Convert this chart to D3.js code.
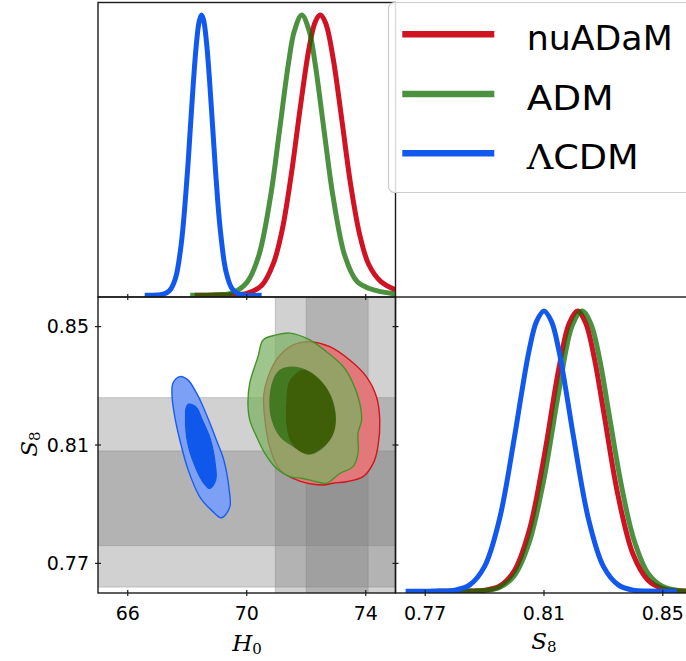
<!DOCTYPE html>
<html><head><meta charset="utf-8">
<script src="https://cdn.jsdelivr.net/npm/d3@7"></script>
<style>
html,body{margin:0;padding:0;background:#fff;overflow:hidden}
svg{display:block}
</style></head><body>
<svg id="chart" width="686" height="661"></svg>
<script>
// ---------------- DATA ----------------
const seriesNames = ["nuADaM", "ADM", "ΛCDM"];
const seriesColors = ["#d01223", "#0f6c00", "#1158ee"];
const seriesLineOpacity = [1, 0.75, 1];

const h0Domain = [65, 75];
const s8Domain = [0.76, 0.86];
const h0Ticks = [66, 70, 74];
const s8Ticks = [0.77, 0.81, 0.85];

// external bands (1 sigma, 2 sigma)
const h0Band1 = [72.0, 74.08];
const h0Band2 = [70.96, 75.12];
const s8Band1 = [0.776, 0.808];
const s8Band2 = [0.762, 0.826];

// 1D marginal posteriors of H0 : [H0, P/Pmax]
const h0_nuADaM = [[68.25,0],[69.0,0.001],[69.5,0.002],[70.0,0.007],[70.5,0.035],[70.9,0.115],[71.2,0.238],[71.5,0.433],[71.8,0.671],[72.1,0.885],[72.3,0.975],[72.47,1.0],[72.65,0.972],[72.9,0.848],[73.2,0.623],[73.5,0.39],[73.8,0.215],[74.1,0.11],[74.5,0.05],[75.0,0.02]];
const h0_ADM = [[68.1,0],[69.0,0.002],[69.5,0.008],[70.0,0.045],[70.4,0.14],[70.8,0.353],[71.1,0.587],[71.4,0.826],[71.6,0.943],[71.85,1.0],[72.1,0.943],[72.3,0.826],[72.6,0.587],[72.9,0.353],[73.3,0.14],[73.7,0.05],[74.1,0.025],[74.5,0.013],[75.0,0.005]];
const h0_LCDM = [[66.57,0],[67.0,0.001],[67.2,0.004],[67.4,0.016],[67.6,0.059],[67.8,0.185],[68.0,0.431],[68.1,0.59],[68.2,0.751],[68.3,0.888],[68.4,0.977],[68.48,1.0],[68.55,0.982],[68.65,0.9],[68.75,0.766],[68.85,0.607],[68.95,0.446],[69.1,0.245],[69.3,0.086],[69.5,0.025],[69.7,0.006],[69.9,0.001],[70.5,0]];

// 1D marginal posteriors of S8 : [S8, P/Pmax]
const s8_nuADaM = [[0.772,0],[0.78,0],[0.785,0.001],[0.79,0.004],[0.795,0.018],[0.8,0.073],[0.805,0.216],[0.81,0.478],[0.815,0.795],[0.8185,0.956],[0.8213,1.0],[0.824,0.958],[0.827,0.829],[0.83,0.646],[0.835,0.338],[0.84,0.132],[0.845,0.04],[0.85,0.01],[0.855,0.002],[0.86,0]];
const s8_ADM = [[0.774,0],[0.78,0],[0.785,0.001],[0.79,0.003],[0.795,0.014],[0.8,0.056],[0.805,0.174],[0.81,0.402],[0.815,0.714],[0.8195,0.948],[0.8228,1.0],[0.8258,0.954],[0.8288,0.824],[0.8322,0.613],[0.8362,0.37],[0.8402,0.187],[0.845,0.065],[0.85,0.017],[0.855,0.003],[0.86,0.001]];
const s8_LCDM = [[0.7634,0],[0.77,0],[0.775,0.001],[0.78,0.004],[0.785,0.023],[0.79,0.089],[0.795,0.257],[0.8,0.547],[0.8025,0.71],[0.805,0.86],[0.8075,0.963],[0.81,1.0],[0.8125,0.963],[0.815,0.86],[0.8175,0.71],[0.82,0.547],[0.825,0.257],[0.83,0.089],[0.835,0.023],[0.84,0.004],[0.845,0.001],[0.8547,0]];

// 2D contours (68% inner, 95% outer): [H0, S8]
const c2d_LCDM_outer = [[67.75,0.8331],[68.02,0.8320],[68.31,0.8276],[68.53,0.8230],[68.76,0.8174],[68.98,0.8117],[69.23,0.8049],[69.41,0.7948],[69.43,0.7891],[69.15,0.7854],[68.81,0.7880],[68.42,0.7925],[68.03,0.8016],[67.75,0.8117],[67.58,0.8196],[67.49,0.8263],[67.52,0.8309]];
const c2d_LCDM_inner = [[68.05,0.8241],[68.31,0.8230],[68.53,0.8185],[68.81,0.8117],[68.96,0.8038],[68.98,0.7982],[68.76,0.7951],[68.53,0.7971],[68.20,0.8038],[67.97,0.8117],[67.92,0.8196],[67.95,0.8229]];
const c2d_nuADaM_outer = [[70.72,0.8331],[71.04,0.8394],[71.56,0.8438],[72.12,0.8449],[72.79,0.8432],[73.46,0.8387],[74.02,0.8331],[74.36,0.8263],[74.47,0.8185],[74.41,0.8094],[74.25,0.8038],[73.91,0.7993],[73.35,0.7976],[72.90,0.7971],[72.57,0.7965],[71.78,0.7978],[71.28,0.8002],[71.04,0.8027],[70.77,0.8094],[70.61,0.8185],[70.57,0.8269]];
const c2d_nuADaM_inner = [[71.45,0.8320],[71.89,0.8354],[72.45,0.8320],[72.72,0.8286],[72.90,0.8241],[72.99,0.8185],[72.86,0.8128],[72.52,0.8090],[72.12,0.8070],[71.71,0.8083],[71.45,0.8117],[71.33,0.8168],[71.33,0.8252],[71.36,0.8293]];
const c2d_ADM_outer = [[71.45,0.8478],[72.12,0.8455],[72.68,0.8415],[73.24,0.8365],[73.57,0.8309],[73.80,0.8241],[73.86,0.8185],[73.74,0.8140],[73.74,0.8072],[73.57,0.8027],[73.13,0.8004],[72.68,0.7971],[72.34,0.7976],[71.89,0.7987],[71.45,0.7993],[71.00,0.8021],[70.61,0.8072],[70.33,0.8128],[70.10,0.8185],[70.04,0.8241],[70.10,0.8309],[70.38,0.8399],[70.55,0.8455],[71.00,0.8472]];
const c2d_ADM_inner = [[70.88,0.8320],[71.11,0.8354],[71.56,0.8365],[72.12,0.8348],[72.57,0.8309],[72.85,0.8263],[72.99,0.8207],[72.96,0.8151],[72.72,0.8106],[72.32,0.8073],[72.01,0.8068],[71.56,0.8094],[71.11,0.8128],[70.83,0.8185],[70.76,0.8252]];

// ---------------- LAYOUT ----------------
const svg = d3.select("#chart");
const defs = svg.append("defs");
const TL = {x0:98, x1:395.5, y0:2.5, y1:297};
const BL = {x0:98, x1:395.5, y0:297, y1:593};
const BR = {x0:395.5, x1:692.5, y0:297, y1:593};

function clip(id, p){
  defs.append("clipPath").attr("id", id).append("rect")
    .attr("x", p.x0).attr("y", p.y0).attr("width", p.x1-p.x0).attr("height", p.y1-p.y0);
  return "url(#"+id+")";
}
const clipTL = clip("cTL", TL), clipBL = clip("cBL", BL), clipBR = clip("cBR", BR);

const xH = d3.scaleLinear().domain(h0Domain).range([BL.x0, BL.x1]);
const yS = d3.scaleLinear().domain(s8Domain).range([BL.y1, BL.y0]);
const yTL = d3.scaleLinear().domain([-0.006, 1.045]).range([TL.y1, TL.y0]);
const xS = d3.scaleLinear().domain(s8Domain).range([BR.x0, BR.x1]);
const yBR = d3.scaleLinear().domain([-0.006, 1.05]).range([BR.y1, BR.y0]);

// ---------------- BOTTOM-LEFT: bands ----------------
const gBL = svg.append("g").attr("clip-path", clipBL);
const bandStyle = sel => sel.attr("fill", "#808080").attr("fill-opacity", 0.36)
   .attr("stroke", "#808080").attr("stroke-opacity", 0.36).attr("stroke-width", 1);
[s8Band2, s8Band1].forEach(b => {
  gBL.append("rect").attr("x", xH(h0Domain[0]) - 5).attr("width", xH(h0Domain[1]) - xH(h0Domain[0]) + 10)
    .attr("y", yS(b[1])).attr("height", yS(b[0]) - yS(b[1])).call(bandStyle);
});
[h0Band2, h0Band1].forEach(b => {
  gBL.append("rect").attr("y", yS(s8Domain[1]) - 5).attr("height", yS(s8Domain[0]) - yS(s8Domain[1]) + 10)
    .attr("x", xH(b[0])).attr("width", xH(b[1]) - xH(b[0])).call(bandStyle);
});

// ---------------- BOTTOM-LEFT: contours ----------------
const closed = d3.line().x(d => xH(d[0])).y(d => yS(d[1])).curve(d3.curveCatmullRomClosed.alpha(0.5));
function contour(outer, inner, ringFill, coreFill, edge, op){
  const g = gBL.append("g");
  g.append("path").attr("d", closed(outer) + closed(inner)).attr("fill-rule", "evenodd")
    .attr("fill", ringFill).attr("fill-opacity", op);
  g.append("path").attr("d", closed(inner)).attr("fill", coreFill).attr("fill-opacity", op);
  g.append("path").attr("d", closed(outer)).attr("fill", "none").attr("stroke", edge).attr("stroke-width", 1.4);
}
contour(c2d_LCDM_outer, c2d_LCDM_inner, "#7ba0f5", "#1058ec", "#1a5cf0", 1);
contour(c2d_nuADaM_outer, c2d_nuADaM_inner, "#e2787a", "#cd141e", "#d0141e", 1);
contour(c2d_ADM_outer, c2d_ADM_inner, "#7ab161", "#087b00", "#46922a", 0.73);

// ---------------- 1D curves ----------------
const gTL = svg.append("g").attr("clip-path", clipTL);
const lineTL = d3.line().x(d => xH(d[0])).y(d => yTL(d[1])).curve(d3.curveCatmullRom.alpha(0.5));
[h0_nuADaM, h0_ADM, h0_LCDM].forEach((d, i) => {
  gTL.append("path").attr("d", lineTL(d)).attr("fill", "none").attr("stroke", seriesColors[i])
    .attr("stroke-opacity", seriesLineOpacity[i]).attr("stroke-width", 5).attr("stroke-linejoin", "round");
});
const gBR = svg.append("g").attr("clip-path", clipBR);
const lineBR = d3.line().x(d => xS(d[0])).y(d => yBR(d[1])).curve(d3.curveCatmullRom.alpha(0.5));
[s8_nuADaM, s8_ADM, s8_LCDM].forEach((d, i) => {
  gBR.append("path").attr("d", lineBR(d)).attr("fill", "none").attr("stroke", seriesColors[i])
    .attr("stroke-opacity", seriesLineOpacity[i]).attr("stroke-width", 5).attr("stroke-linejoin", "round");
});

// ---------------- spines & ticks ----------------
const gAx = svg.append("g").attr("stroke", "#1a1a1a");
[TL, BL, BR].forEach(p => {
  gAx.append("rect").attr("x", p.x0).attr("y", p.y0).attr("width", p.x1 - p.x0).attr("height", p.y1 - p.y0)
    .attr("fill", "none").attr("stroke-width", 1.4);
});
const T = 3;
h0Ticks.forEach(v => {
  [TL.y1, BL.y1].forEach(y => gAx.append("line").attr("x1", xH(v)).attr("x2", xH(v)).attr("y1", y - T).attr("y2", y + T).attr("stroke-width", 1.2));
});
s8Ticks.forEach(v => {
  [BL.x0, BL.x1].forEach(x => gAx.append("line").attr("y1", yS(v)).attr("y2", yS(v)).attr("x1", x - T).attr("x2", x + T).attr("stroke-width", 1.2));
  gAx.append("line").attr("x1", xS(v)).attr("x2", xS(v)).attr("y1", BR.y1 - T).attr("y2", BR.y1 + T).attr("stroke-width", 1.2);
});

// tick labels
const fmtS = d3.format(".2f");
const gLab = svg.append("g").attr("font-family", "DejaVu Sans, sans-serif").attr("font-size", 19).attr("fill", "#000");
h0Ticks.forEach(v => gLab.append("text").attr("x", xH(v)).attr("y", 620).attr("text-anchor", "middle").text(v));
s8Ticks.forEach(v => gLab.append("text").attr("x", xS(v)).attr("y", 620).attr("text-anchor", "middle").text(fmtS(v)));
s8Ticks.forEach(v => gLab.append("text").attr("x", 89).attr("y", yS(v)).attr("dy", "0.36em").attr("text-anchor", "end").text(fmtS(v)));

// axis titles
function mathLabel(g, sym, sub){
  const t = g.append("text").attr("font-family", "DejaVu Serif, serif").attr("fill", "#000").attr("text-anchor", "middle");
  t.append("tspan").attr("font-style", "italic").attr("font-size", 23).text(sym);
  t.append("tspan").attr("font-size", 15).attr("dy", 3).text(sub);
  return t;
}
mathLabel(svg.append("g").attr("transform", "translate(247,650.5)"), "H", "0");
mathLabel(svg.append("g").attr("transform", "translate(544,649)"), "S", "8");
mathLabel(svg.append("g").attr("transform", "translate(37,444) rotate(-90)"), "S", "8");

// ---------------- legend ----------------
const gLeg = svg.append("g");
gLeg.append("rect").attr("x", 388.5).attr("y", 2.5).attr("width", 330).attr("height", 190).attr("rx", 6)
  .attr("fill", "#fff").attr("fill-opacity", 0.85).attr("stroke", "#cccccc").attr("stroke-width", 1.2);
const legY = [34.3, 94, 153.3];
const legW = [146, 87, 112];
seriesNames.forEach((name, i) => {
  gLeg.append("line").attr("x1", 402.3).attr("x2", 494.3).attr("y1", legY[i]).attr("y2", legY[i])
    .attr("stroke", seriesColors[i]).attr("stroke-opacity", seriesLineOpacity[i]).attr("stroke-width", 6.5);
  const t = gLeg.append("text").attr("x", 526.7).attr("y", legY[i] + 15.5)
    .attr("font-family", "DejaVu Sans, sans-serif").attr("font-size", 33).attr("fill", "#000")
    .attr("textLength", legW[i]).attr("lengthAdjust", "spacingAndGlyphs");
  if (name.startsWith("Λ")) {
    t.append("tspan").attr("font-family", "DejaVu Serif, serif").text("Λ");
    t.append("tspan").text(name.slice(1));
  } else t.text(name);
});
</script></body></html>
